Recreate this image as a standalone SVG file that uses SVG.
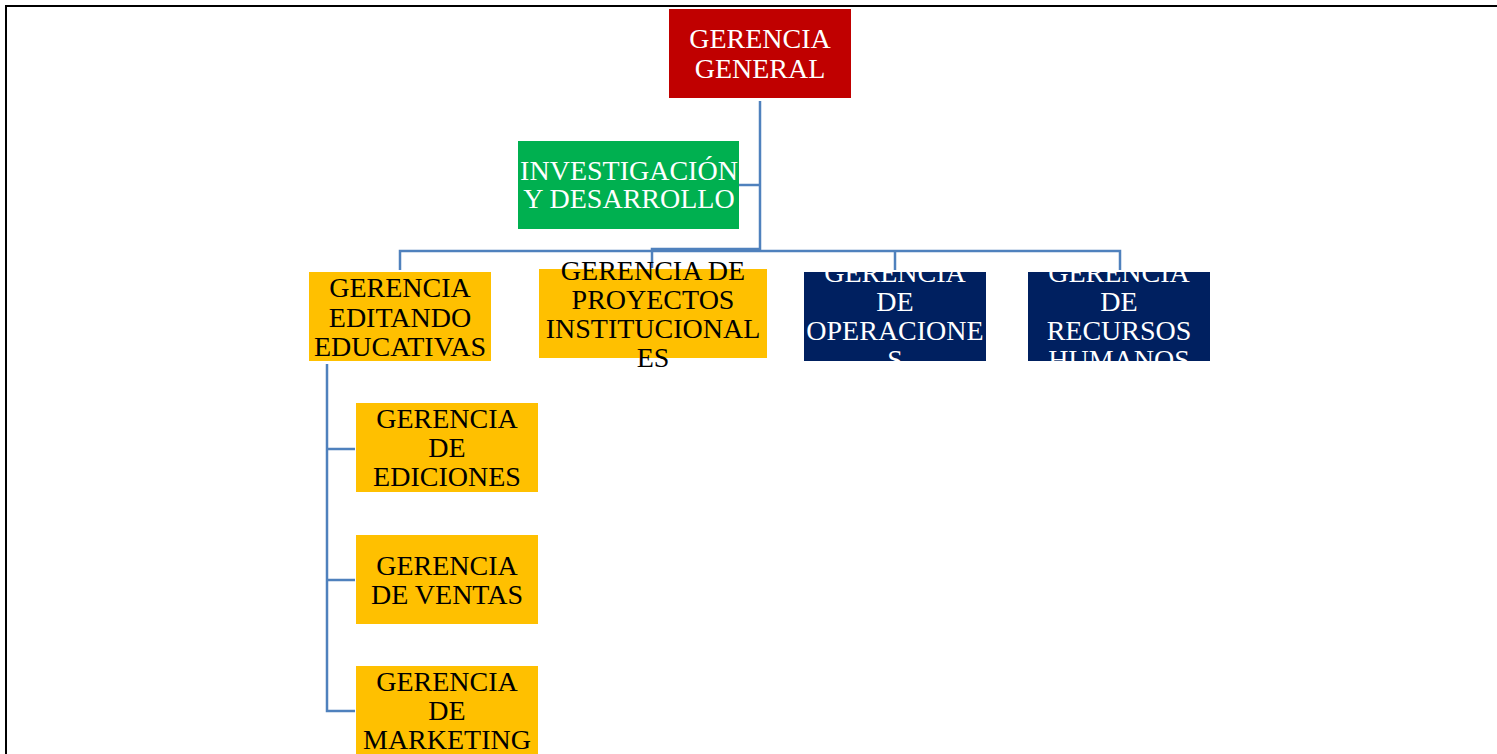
<svg xmlns="http://www.w3.org/2000/svg" width="1497" height="754" viewBox="0 0 1497 754">
<style>
text{font-family:"Liberation Serif","Times New Roman",serif;font-size:28px;text-anchor:middle}
.w{fill:#fff}.k{fill:#000}
.c{fill:none;stroke:#4F81BD;stroke-width:2.5}
</style>
<defs>
<clipPath id="cOp"><rect x="804" y="272" width="182" height="89"/></clipPath>
<clipPath id="cRh"><rect x="1028" y="272" width="182" height="89"/></clipPath>
</defs>
<rect width="1497" height="754" fill="#fff"/>
<path d="M6,754V6H1497" fill="none" stroke="#000" stroke-width="2"/>
<g id="connectors">
<path class="c" d="M760,101V250"/>
<path class="c" d="M739,185H760"/>
<path class="c" d="M400,270V251H1120V270"/>
<path class="c" d="M652,268V249H760"/>
<path class="c" d="M895,251V270"/>
<path class="c" d="M327,364V711H355"/>
<path class="c" d="M327,449H355M327,580H355"/>
</g>
<g id="gerencia-general">
<rect x="669" y="9" width="182" height="89" fill="#C00000"/>
<text class="w" x="760" y="48" font-size="29">GERENCIA</text>
<text class="w" x="760" y="78" font-size="29">GENERAL</text>
</g>
<g id="investigacion">
<rect x="518" y="141" width="221" height="88" fill="#00B050"/>
<text class="w" x="629" y="180">INVESTIGACIÓN</text>
<text class="w" x="629" y="208">Y DESARROLLO</text>
</g>
<g id="editando">
<rect x="309" y="272" width="182" height="89" fill="#FFC000"/>
<text class="k" x="400" y="297">GERENCIA</text>
<text class="k" x="400" y="327">EDITANDO</text>
<text class="k" x="400" y="356">EDUCATIVAS</text>
</g>
<g id="proyectos">
<rect x="539" y="269" width="228" height="89" fill="#FFC000"/>
<text class="k" x="653" y="280">GERENCIA DE</text>
<text class="k" x="653" y="309">PROYECTOS</text>
<text class="k" x="653" y="338">INSTITUCIONAL</text>
<text class="k" x="653" y="367">ES</text>
</g>
<g id="operaciones">
<rect x="804" y="272" width="182" height="89" fill="#002060"/>
<g clip-path="url(#cOp)">
<text class="w" x="895" y="282">GERENCIA</text>
<text class="w" x="895" y="311">DE</text>
<text class="w" x="895" y="340">OPERACIONE</text>
<text class="w" x="895" y="369">S</text>
</g>
</g>
<g id="recursos-humanos">
<rect x="1028" y="272" width="182" height="89" fill="#002060"/>
<g clip-path="url(#cRh)">
<text class="w" x="1119" y="282">GERENCIA</text>
<text class="w" x="1119" y="311">DE</text>
<text class="w" x="1119" y="340">RECURSOS</text>
<text class="w" x="1119" y="369">HUMANOS</text>
</g>
</g>
<g id="ediciones">
<rect x="356" y="403" width="182" height="89" fill="#FFC000"/>
<text class="k" x="447" y="428">GERENCIA</text>
<text class="k" x="447" y="457">DE</text>
<text class="k" x="447" y="486">EDICIONES</text>
</g>
<g id="ventas">
<rect x="356" y="535" width="182" height="89" fill="#FFC000"/>
<text class="k" x="447" y="575">GERENCIA</text>
<text class="k" x="447" y="604">DE VENTAS</text>
</g>
<g id="marketing">
<rect x="356" y="666" width="182" height="89" fill="#FFC000"/>
<text class="k" x="447" y="691">GERENCIA</text>
<text class="k" x="447" y="720">DE</text>
<text class="k" x="447" y="749">MARKETING</text>
</g>
</svg>
